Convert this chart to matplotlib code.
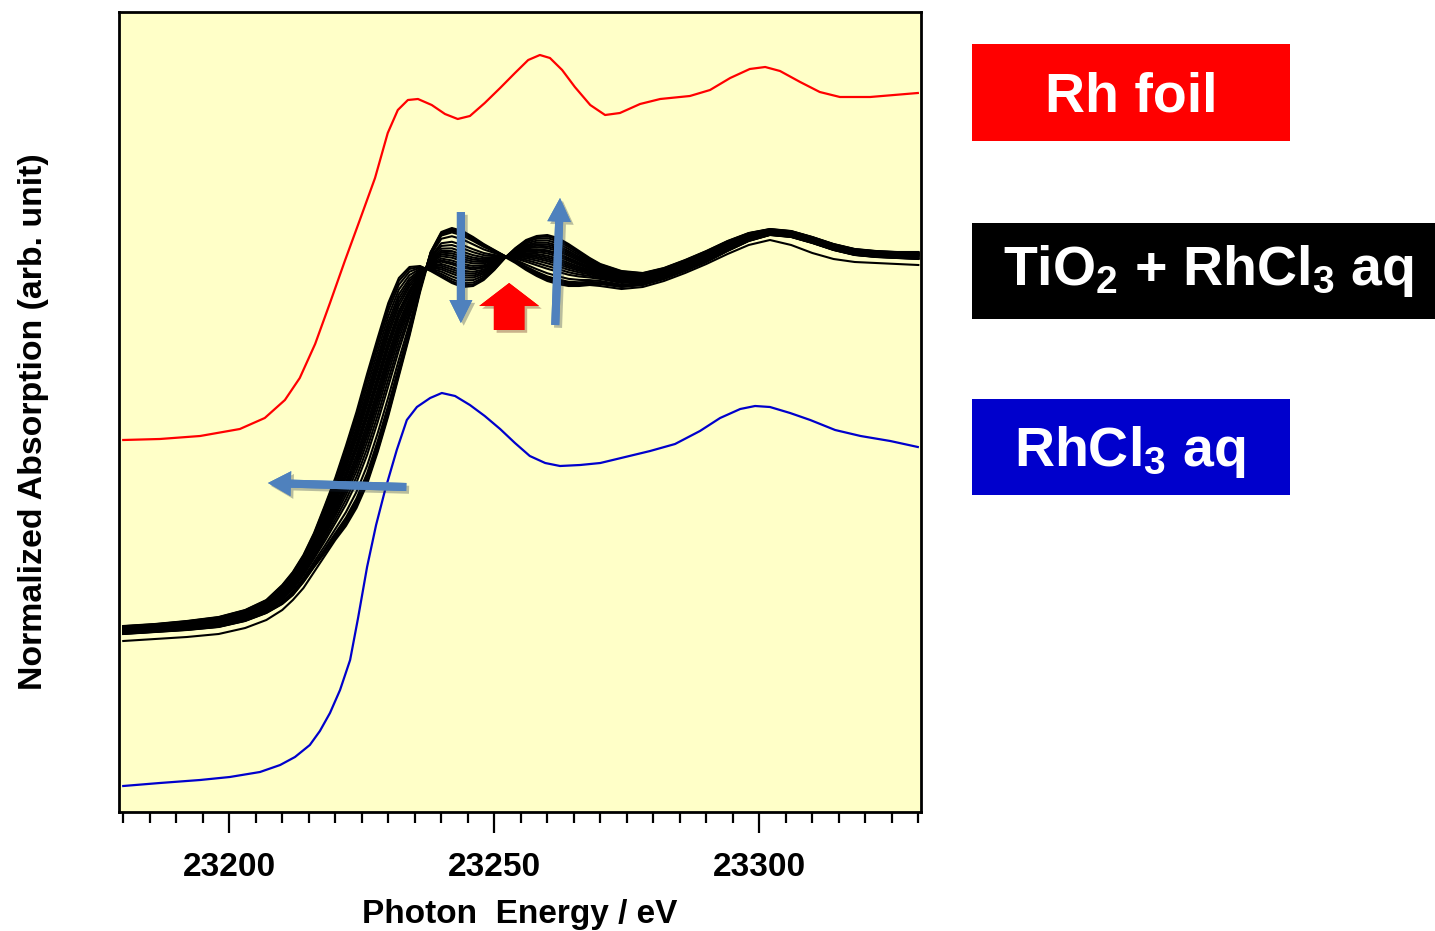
import numpy as np
import matplotlib
matplotlib.use('Agg')
from matplotlib import pyplot as plt
from matplotlib.patches import Rectangle
from matplotlib.ticker import MultipleLocator
import matplotlib.patheffects as pe

plt.rcParams['font.family'] = ['Liberation Sans', 'DejaVu Sans']
plt.rcParams['font.weight'] = 'bold'
plt.rcParams['mathtext.fontset'] = 'custom'
plt.rcParams['mathtext.rm'] = 'Liberation Sans:bold'
plt.rcParams['mathtext.it'] = 'Liberation Sans:bold'
plt.rcParams['mathtext.bf'] = 'Liberation Sans:bold'

# Rh foil reference (stacked, arb. unit)
red_energy = [23180.0, 23186.9, 23194.5, 23202.0, 23206.7, 23210.5, 23213.3, 23216.2, 23219.0,
              23221.8, 23224.7, 23227.5, 23229.9, 23231.8, 23233.7, 23235.6, 23238.2, 23240.7,
              23243.1, 23245.4, 23248.2, 23251.1, 23253.9, 23256.4, 23258.6, 23260.5, 23262.8,
              23265.2, 23268.1, 23270.9, 23273.7, 23277.5, 23281.3, 23286.9, 23290.7, 23294.5,
              23298.2, 23301.1, 23303.9, 23307.7, 23311.4, 23315.2, 23320.9, 23329.9]
red_abs = [3.72, 3.73, 3.76, 3.83, 3.94, 4.12, 4.34, 4.68, 5.09,
           5.51, 5.93, 6.34, 6.79, 7.02, 7.12, 7.13, 7.07, 6.98,
           6.93, 6.96, 7.09, 7.24, 7.39, 7.52, 7.57, 7.54, 7.42,
           7.25, 7.07, 6.97, 6.99, 7.08, 7.13, 7.16, 7.22, 7.34,
           7.43, 7.45, 7.41, 7.30, 7.20, 7.15, 7.15, 7.19]

# RhCl3 aq reference
blue_energy = [23180.0, 23186.9, 23194.5, 23200.1, 23205.8, 23209.6, 23212.4, 23215.2, 23217.1,
               23219.0, 23220.9, 23222.8, 23224.3, 23226.0, 23227.7, 23229.4, 23231.6, 23233.5,
               23235.4, 23237.9, 23240.1, 23242.6, 23245.4, 23248.2, 23251.1, 23253.9, 23256.7,
               23259.6, 23262.4, 23266.2, 23270.0, 23274.7, 23279.4, 23284.1, 23288.8, 23292.6,
               23296.4, 23299.2, 23302.0, 23305.8, 23309.6, 23314.3, 23319.1, 23324.7, 23329.9]
blue_abs = [0.26, 0.29, 0.32, 0.35, 0.40, 0.47, 0.55, 0.67, 0.81,
            0.99, 1.22, 1.52, 1.94, 2.45, 2.87, 3.22, 3.62, 3.92,
            4.05, 4.14, 4.19, 4.16, 4.07, 3.96, 3.83, 3.69, 3.56,
            3.49, 3.46, 3.47, 3.49, 3.55, 3.61, 3.68, 3.81, 3.94,
            4.03, 4.06, 4.05, 3.99, 3.92, 3.82, 3.76, 3.71, 3.65]

# TiO2 + RhCl3 aq time series
black_energy = [23180, 23186, 23192, 23198, 23203, 23207, 23210, 23212, 23214, 23216,
                23218, 23220, 23222, 23224, 23226, 23228, 23230, 23232, 23234, 23236,
                23238, 23240, 23242, 23244, 23246, 23248, 23250, 23252, 23254, 23256,
                23258, 23260, 23262, 23264, 23266, 23268, 23270, 23274, 23278, 23282,
                23286, 23290, 23294, 23298, 23302, 23306, 23310, 23314, 23318, 23322,
                23326, 23330]
black_initial = [1.78, 1.80, 1.82, 1.85, 1.91, 1.99, 2.08, 2.17, 2.30, 2.45,
                 2.59, 2.74, 2.88, 3.06, 3.30, 3.62, 3.98, 4.38, 4.78, 5.22,
                 5.60, 5.80, 5.84, 5.81, 5.75, 5.68, 5.62, 5.56, 5.50, 5.43,
                 5.37, 5.32, 5.29, 5.27, 5.27, 5.28, 5.28, 5.25, 5.27, 5.33,
                 5.41, 5.50, 5.61, 5.71, 5.77, 5.75, 5.69, 5.62, 5.57, 5.55,
                 5.54, 5.53]
black_final = [1.86, 1.88, 1.91, 1.95, 2.02, 2.12, 2.27, 2.40, 2.57, 2.79,
               3.06, 3.34, 3.66, 4.00, 4.38, 4.74, 5.09, 5.34, 5.45, 5.46,
               5.41, 5.35, 5.29, 5.25, 5.26, 5.32, 5.42, 5.54, 5.64, 5.72,
               5.76, 5.77, 5.74, 5.68, 5.61, 5.54, 5.48, 5.41, 5.39, 5.44,
               5.52, 5.61, 5.71, 5.79, 5.83, 5.81, 5.75, 5.68, 5.63, 5.61,
               5.60, 5.60]
black_first = [1.71, 1.73, 1.75, 1.78, 1.84, 1.92, 2.02, 2.12, 2.24, 2.40,
               2.56, 2.72, 2.86, 3.04, 3.28, 3.60, 3.96, 4.36, 4.76, 5.20,
               5.58, 5.78, 5.82, 5.79, 5.74, 5.67, 5.61, 5.55, 5.49, 5.42,
               5.36, 5.31, 5.28, 5.26, 5.26, 5.27, 5.26, 5.23, 5.25, 5.31,
               5.39, 5.48, 5.58, 5.67, 5.72, 5.67, 5.59, 5.53, 5.50, 5.49,
               5.48, 5.47]
# fraction of reduced Rh in each scan (read from the white-line heights)
scan_fraction = [0.0, 0.02, 0.05, 0.08, 0.15, 0.25, 0.31, 0.37, 0.42, 0.46, 0.5,
                 0.54, 0.59, 0.63, 0.66, 0.71, 0.75, 0.79, 0.83, 0.88, 0.93, 0.97, 1.0]

fig = plt.figure(figsize=(14.35, 9.31), dpi=100)
ax = fig.add_axes([119/1435, 119/931, 802/1435, 800/931])
ax.set_facecolor('#FFFFC8')

e_black = np.array(black_energy, dtype=float)
a0 = np.array(black_initial)
a1 = np.array(black_final)
for f in scan_fraction:
    ax.plot(e_black, (1 - f)*a0 + f*a1, color='black', lw=1.5)
ax.plot(e_black, black_first, color='black', lw=1.5)

ax.plot(red_energy, red_abs, color='#FF0000', lw=1.6)
ax.plot(blue_energy, blue_abs, color='#0000CC', lw=1.6)

ax.set_xlim(23179.2, 23330.5)
ax.set_ylim(0, 8)
ax.set_yticks([])
ax.xaxis.set_major_locator(MultipleLocator(50))
ax.xaxis.set_minor_locator(MultipleLocator(5))
ax.tick_params(axis='x', which='major', direction='out', length=15, width=1.6,
               labelsize=24, pad=14)
ax.tick_params(axis='x', which='minor', direction='out', length=8, width=1.6)
for sp in ax.spines.values():
    sp.set_linewidth(2)
    sp.set_color('black')

ax.set_xlabel('Photon  Energy / eV', fontsize=24, fontweight='bold', va='center')
ax.xaxis.set_label_coords(0.5, -0.128)
ax.set_ylabel('Normalized Absorption (arb. unit)', fontsize=24.4, fontweight='bold', va='center')
ax.yaxis.set_label_coords(-0.107, 0.4875)

# arrows
arrow_blue = '#4F81BD'

def add_arrow(tail, tip, color, tail_w, head_w, head_l):
    style = 'simple,head_length=%g,head_width=%g,tail_width=%g' % (head_l, head_w, tail_w)
    ann = ax.annotate('', xy=tip, xytext=tail,
                      arrowprops=dict(arrowstyle=style, mutation_scale=1, color=color,
                                      shrinkA=0, shrinkB=0, lw=0))
    ann.arrow_patch.set_path_effects([pe.withSimplePatchShadow(offset=(2, -2), alpha=0.3),
                                      pe.Normal()])
    return ann

add_arrow((23243.7, 6.00), (23243.7, 4.89), arrow_blue, 5.8, 16.5, 16.5)
add_arrow((23261.5, 4.87), (23262.4, 6.14), arrow_blue, 5.8, 17, 17)
add_arrow((23233.4, 3.25), (23207.3, 3.29), arrow_blue, 5.8, 18, 16.5)
add_arrow((23252.8, 4.82), (23252.8, 5.29), '#FF0000', 22, 43, 16.5)

# label boxes
W, H = 1435.0, 931.0
boxes = [
    (972, 44, 1290, 141, '#FF0000', 'Rh foil', 1131, 111),
    (972, 223, 1435, 319, '#000000', r'TiO$_2$ + RhCl$_3$ aq', 1208, 285),
    (972, 399, 1290, 495, '#0000CC', r'RhCl$_3$ aq', 1130, 466),
]
for x0, y0, x1, y1, c, txt, tx, ty in boxes:
    fig.add_artist(Rectangle((x0/W, 1 - y1/H), (x1 - x0)/W, (y1 - y0)/H,
                             transform=fig.transFigure, facecolor=c, edgecolor='none'))
    fig.text(tx/W, 1 - ty/H, txt, color='white', fontsize=40, fontweight='bold',
             ha='center', va='baseline')

fig.savefig('out.png', dpi=100)
